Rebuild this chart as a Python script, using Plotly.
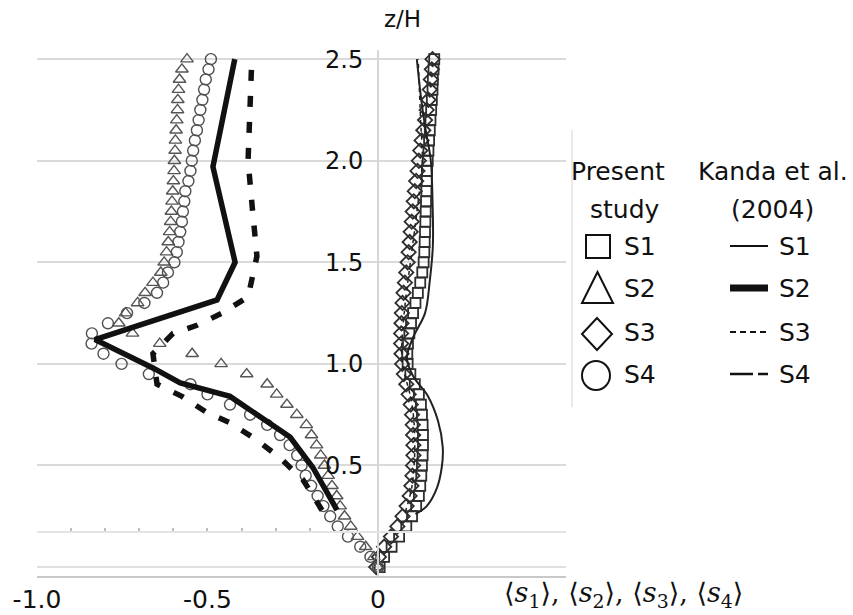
import plotly.graph_objects as go

# ---------------- data ----------------
z_markers = [0.00, 0.05, 0.10, 0.15, 0.20, 0.25, 0.30, 0.35, 0.40, 0.45,
             0.50, 0.55, 0.60, 0.65, 0.70, 0.75, 0.80, 0.85, 0.90, 0.95,
             1.00, 1.05, 1.10, 1.15, 1.20, 1.25, 1.30, 1.35, 1.40, 1.45,
             1.50, 1.55, 1.60, 1.65, 1.70, 1.75, 1.80, 1.85, 1.90, 1.95,
             2.00, 2.05, 2.10, 2.15, 2.20, 2.25, 2.30, 2.35, 2.40, 2.45, 2.50]

# Present study
s1_present = [0.005, 0.018, 0.040, 0.062, 0.083, 0.100, 0.112, 0.120, 0.124, 0.127,
              0.129, 0.131, 0.132, 0.132, 0.131, 0.129, 0.126, 0.120, 0.108, 0.095,
              0.087, 0.086, 0.088, 0.092, 0.097, 0.103, 0.110, 0.117, 0.124, 0.130,
              0.134, 0.136, 0.137, 0.138, 0.139, 0.140, 0.141, 0.142, 0.143, 0.144,
              0.146, 0.148, 0.150, 0.152, 0.154, 0.156, 0.158, 0.160, 0.161, 0.163, 0.165]

s2_present = [0.000, -0.012, -0.036, -0.060, -0.080, -0.098, -0.111, -0.121, -0.135, -0.146,
              -0.157, -0.168, -0.180, -0.195, -0.210, -0.238, -0.267, -0.297, -0.325, -0.385,
              -0.460, -0.545, -0.640, -0.720, -0.760, -0.740, -0.705, -0.683, -0.660, -0.637,
              -0.627, -0.620, -0.615, -0.611, -0.608, -0.606, -0.604, -0.602, -0.600, -0.598,
              -0.597, -0.595, -0.594, -0.592, -0.590, -0.588, -0.587, -0.585, -0.582, -0.575, -0.560]

s3_present = [-0.005, 0.003, 0.018, 0.038, 0.057, 0.072, 0.084, 0.093, 0.098, 0.101,
              0.103, 0.104, 0.104, 0.103, 0.102, 0.100, 0.096, 0.090, 0.083, 0.076,
              0.071, 0.069, 0.068, 0.068, 0.069, 0.070, 0.072, 0.075, 0.079, 0.083,
              0.087, 0.090, 0.093, 0.096, 0.099, 0.102, 0.105, 0.108, 0.112, 0.116,
              0.120, 0.124, 0.128, 0.133, 0.138, 0.143, 0.148, 0.152, 0.155, 0.158, 0.160]

s4_present = [0.000, -0.022, -0.052, -0.088, -0.118, -0.140, -0.160, -0.177, -0.196, -0.212,
              -0.224, -0.237, -0.259, -0.287, -0.325, -0.375, -0.434, -0.500, -0.550, -0.672,
              -0.752, -0.805, -0.840, -0.839, -0.792, -0.736, -0.685, -0.648, -0.630, -0.616,
              -0.597, -0.590, -0.585, -0.580, -0.575, -0.572, -0.568, -0.565, -0.556, -0.550,
              -0.546, -0.542, -0.537, -0.531, -0.526, -0.521, -0.515, -0.510, -0.505, -0.497, -0.490]

# Kanda et al. (2004)
kanda_s1_z = [0.26, 0.30, 0.39, 0.49, 0.59, 0.72, 0.84, 0.94, 1.03, 1.13,
              1.25, 1.41, 1.58, 1.80, 2.00, 2.15, 2.30, 2.50]
kanda_s1 = [0.110, 0.143, 0.173, 0.187, 0.190, 0.176, 0.147, 0.103, 0.085, 0.103,
            0.138, 0.152, 0.161, 0.160, 0.155, 0.140, 0.127, 0.114]

kanda_s2_z = [0.28, 0.49, 0.64, 0.84, 0.906, 0.98, 1.12, 1.315, 1.50, 1.97, 2.50]
kanda_s2 = [-0.120, -0.191, -0.258, -0.434, -0.580, -0.660, -0.830, -0.472, -0.419, -0.484, -0.420]

kanda_s3_z = [0.27, 0.40, 0.60, 0.80, 1.00, 1.10, 1.30, 1.50, 1.80, 2.00, 2.20, 2.50]
kanda_s3 = [0.080, 0.100, 0.108, 0.100, 0.072, 0.070, 0.080, 0.095, 0.118, 0.130, 0.125, 0.118]

kanda_s4_z = [0.28, 0.43, 0.537, 0.625, 0.71, 0.76, 0.84, 0.90, 1.05, 1.15,
              1.19, 1.25, 1.33, 1.53, 1.74, 2.00, 2.50]
kanda_s4 = [-0.164, -0.220, -0.287, -0.355, -0.434, -0.501, -0.575, -0.648, -0.660, -0.601,
            -0.531, -0.457, -0.381, -0.355, -0.367, -0.381, -0.370]

x_tick_vals = [-1.0, -0.5, 0.0]
x_tick_text = ["-1.0", "-0.5", "0"]
z_tick_vals = [0.5, 1.0, 1.5, 2.0, 2.5]
z_tick_text = ["0.5", "1.0", "1.5", "2.0", "2.5"]
aux_tick_vals = [-0.9, -0.8, -0.7, -0.6, -0.5, -0.4, -0.3, -0.2]

legend_head_left = ["Present", "study"]
legend_head_right = ["Kanda et al.", "(2004)"]
legend_names = ["S1", "S2", "S3", "S4"]

# ---------------- figure ----------------
W, H = 853, 615
FONT = "DejaVu Sans"
mk_col = "#2e2e2e"

fig = go.Figure()

fig.add_trace(go.Scatter(x=s1_present, y=z_markers, mode="markers", cliponaxis=False,
                         marker=dict(symbol="square-open", size=10, color=mk_col,
                                     line=dict(width=1.8, color=mk_col))))
fig.add_trace(go.Scatter(x=s3_present, y=z_markers, mode="markers", cliponaxis=False,
                         marker=dict(symbol="diamond-open", size=11, color=mk_col,
                                     line=dict(width=1.8, color=mk_col))))
fig.add_trace(go.Scatter(x=s2_present, y=z_markers, mode="markers", cliponaxis=False,
                         marker=dict(symbol="triangle-up-open", size=11, color="#555555",
                                     line=dict(width=1.4, color="#555555"))))
fig.add_trace(go.Scatter(x=s4_present, y=z_markers, mode="markers", cliponaxis=False,
                         marker=dict(symbol="circle-open", size=11, color="#505050",
                                     line=dict(width=1.4, color="#505050"))))

fig.add_trace(go.Scatter(x=kanda_s1, y=kanda_s1_z, mode="lines",
                         line=dict(color="#222222", width=2, shape="spline")))
# drawn on the auxiliary (identical-range) x axis so that axis is rendered
fig.add_trace(go.Scatter(x=kanda_s3, y=kanda_s3_z, mode="lines", xaxis="x2", yaxis="y",
                         line=dict(color="#222222", width=1.5, dash="4px,4px", shape="spline")))
fig.add_trace(go.Scatter(x=kanda_s2, y=kanda_s2_z, mode="lines",
                         line=dict(color="#111111", width=5.5)))
fig.add_trace(go.Scatter(x=kanda_s4, y=kanda_s4_z, mode="lines",
                         line=dict(color="#111111", width=5.5, dash="11px,15px")))

x0p, x1p = 37 / W, 565.5 / W
y0p, y1p = (H - 576) / H, (H - 50) / H

fig.update_layout(
    width=W, height=H,
    margin=dict(l=0, r=0, t=0, b=0, autoexpand=False),
    paper_bgcolor="white", plot_bgcolor="white",
    showlegend=False,
    font=dict(family=FONT, size=22, color="#111111"),
    xaxis=dict(domain=[x0p, x1p], range=[-1.0, 0.55], anchor="y", automargin=False,
               tickvals=x_tick_vals, ticktext=x_tick_text, ticks="",
               showgrid=False, zeroline=False,
               showline=True, linecolor="#c8c8c8", linewidth=1.5,
               tickfont=dict(family=FONT, size=25, color="#111111")),
    xaxis2=dict(overlaying="x", anchor="free", position=(H - 532) / H, automargin=False,
                range=[-1.0, 0.55], tickvals=aux_tick_vals, ticks="inside",
                ticklen=3, tickcolor="#bdbdbd", tickwidth=2, showticklabels=False,
                showgrid=False, zeroline=False,
                showline=True, linecolor="#e4e4e4", linewidth=1.5),
    yaxis=dict(domain=[y0p, y1p], range=[-0.044, 2.545], anchor="free", automargin=False,
               position=378 / W,
               tickvals=z_tick_vals, ticktext=z_tick_text, ticks="",
               ticklabelstandoff=9,
               showgrid=True, gridcolor="#dadada", gridwidth=2,
               zeroline=True, zerolinecolor="#e0e0e0", zerolinewidth=2,
               showline=True, linecolor="#d6d6d6", linewidth=2,
               tickfont=dict(family=FONT, size=24, color="#111111")),
)

def txt(text, px, py, size=25, anchor="center", family=FONT):
    return dict(text=text, x=px / W, y=1 - py / H, xref="paper", yref="paper",
                showarrow=False, xanchor=anchor, yanchor="middle",
                font=dict(family=family, size=size, color="#111111"))

ann = []
ann.append(txt("z/H", 402, 19, size=23))
ann.append(txt("\u27E8<i>s</i><sub>1</sub>\u27E9, \u27E8<i>s</i><sub>2</sub>\u27E9, "
               "\u27E8<i>s</i><sub>3</sub>\u27E9, \u27E8<i>s</i><sub>4</sub>\u27E9",
               623, 594, size=27, family="DejaVu Serif"))

# legend headers
ann.append(txt(legend_head_left[0], 618, 171))
ann.append(txt(legend_head_left[1], 625, 209))
ann.append(txt(legend_head_right[0], 773, 171))
ann.append(txt(legend_head_right[1], 772, 209))

row_y = [246, 288, 332, 374]
for i, name in enumerate(legend_names):
    ann.append(txt(name, 622, row_y[i], anchor="left"))
    ann.append(txt(name, 777, row_y[i], anchor="left"))

fig.update_layout(annotations=ann)


def px_x(v):
    return v / W


def px_y(v):
    return 1 - v / H


key_line = dict(color="#111111", width=2)
shapes = []
# legend separator
shapes.append(dict(type="line", xref="paper", yref="paper",
                   x0=px_x(572), x1=px_x(572), y0=px_y(130), y1=px_y(407),
                   line=dict(color="#d4d4d4", width=1)))
# legend keys for the present study (open symbols)
shapes.append(dict(type="rect", xref="paper", yref="paper",
                   x0=px_x(586), x1=px_x(610), y0=px_y(258), y1=px_y(235), line=key_line))
shapes.append(dict(type="path", xref="paper", yref="paper", line=key_line,
                   path=f"M {px_x(582)} {px_y(303)} L {px_x(597.5)} {px_y(272)} "
                        f"L {px_x(613)} {px_y(303)} Z"))
shapes.append(dict(type="path", xref="paper", yref="paper", line=key_line,
                   path=f"M {px_x(582)} {px_y(334)} L {px_x(597)} {px_y(318)} "
                        f"L {px_x(612)} {px_y(334)} L {px_x(597)} {px_y(350)} Z"))
shapes.append(dict(type="circle", xref="paper", yref="paper",
                   x0=px_x(582), x1=px_x(610), y0=px_y(390), y1=px_y(361), line=key_line))
# legend keys for Kanda et al.
line_styles = [dict(width=2, dash="solid"), dict(width=7, dash="solid"),
               dict(width=1.8, dash="6px,4px"), dict(width=2.5, dash="23px,5px,10px,40px")]
for i in range(4):
    shapes.append(dict(type="line", xref="paper", yref="paper",
                       x0=px_x(730), x1=px_x(768), y0=px_y(row_y[i]), y1=px_y(row_y[i]),
                       line=dict(color="#111111", **line_styles[i])))
fig.update_layout(shapes=shapes)

fig.write_html("out.html")
